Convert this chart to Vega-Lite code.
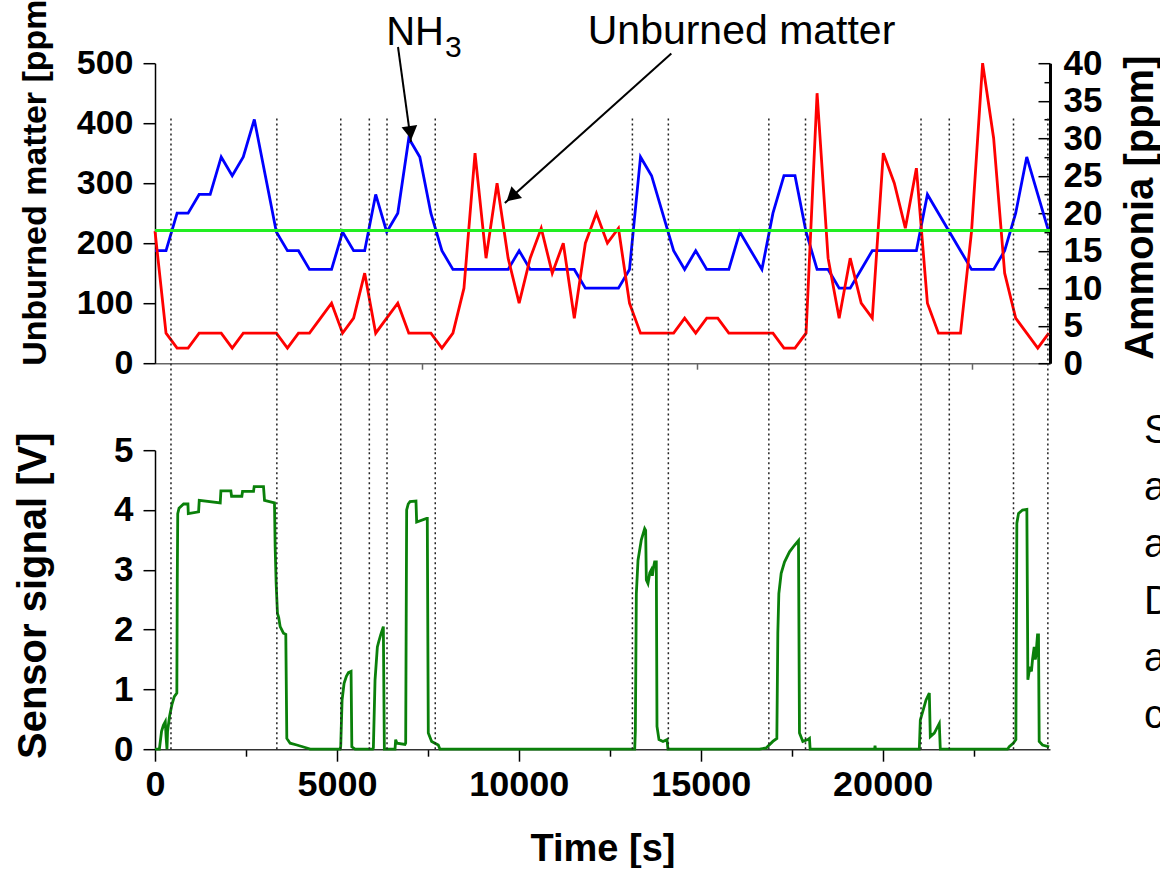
{
  "$schema": "https://vega.github.io/schema/vega-lite/v6.json",
  "background": "white",
  "padding": {"left": 13, "top": -12.8, "right": -13, "bottom": 0},
  "bounds": "flush",
  "spacing": 87,
  "config": {
    "view": {"stroke": null},
    "font": "Liberation Sans",
    "axis": {
      "grid": false,
      "labelFont": "Liberation Sans",
      "titleFont": "Liberation Sans",
      "labelColor": "black",
      "titleColor": "black",
      "domainColor": "black",
      "tickColor": "black",
      "labelOverlap": false,
      "labelFlush": false,
      "labelFontWeight": "bold",
      "titleFontWeight": "bold",
      "domainWidth": 1.5,
      "tickWidth": 1.5
    }
  },
  "datasets": {
    "events": [
      {"t": 439}, {"t": 3349}, {"t": 5106}, {"t": 5891}, {"t": 6377}, {"t": 7703},
      {"t": 13122}, {"t": 14110}, {"t": 16872}, {"t": 17880}, {"t": 21055},
      {"t": 21832}, {"t": 23597}, {"t": 24541}
    ],
    "top": [
      {"t": 0, "nh3": 15, "um": 220},
      {"t": 303, "nh3": 15, "um": 50},
      {"t": 607, "nh3": 20, "um": 25},
      {"t": 910, "nh3": 20, "um": 25},
      {"t": 1213, "nh3": 22.5, "um": 50},
      {"t": 1517, "nh3": 22.5, "um": 50},
      {"t": 1820, "nh3": 27.5, "um": 50},
      {"t": 2123, "nh3": 25, "um": 25},
      {"t": 2426, "nh3": 27.5, "um": 50},
      {"t": 2730, "nh3": 32.5, "um": 50},
      {"t": 3033, "nh3": 25, "um": 50},
      {"t": 3336, "nh3": 17.5, "um": 50},
      {"t": 3640, "nh3": 15, "um": 25},
      {"t": 3943, "nh3": 15, "um": 50},
      {"t": 4246, "nh3": 12.5, "um": 50},
      {"t": 4550, "nh3": 12.5, "um": 75},
      {"t": 4853, "nh3": 12.5, "um": 100},
      {"t": 5156, "nh3": 17.5, "um": 50},
      {"t": 5459, "nh3": 15, "um": 75},
      {"t": 5763, "nh3": 15, "um": 150},
      {"t": 6066, "nh3": 22.5, "um": 50},
      {"t": 6369, "nh3": 17.5, "um": 75},
      {"t": 6673, "nh3": 20, "um": 100},
      {"t": 6976, "nh3": 30, "um": 50},
      {"t": 7279, "nh3": 27.5, "um": 50},
      {"t": 7583, "nh3": 20, "um": 50},
      {"t": 7886, "nh3": 15, "um": 25},
      {"t": 8189, "nh3": 12.5, "um": 50},
      {"t": 8492, "nh3": 12.5, "um": 125},
      {"t": 8796, "nh3": 12.5, "um": 350},
      {"t": 9099, "nh3": 12.5, "um": 175},
      {"t": 9402, "nh3": 12.5, "um": 300},
      {"t": 9706, "nh3": 12.5, "um": 175},
      {"t": 10009, "nh3": 15, "um": 100},
      {"t": 10312, "nh3": 12.5, "um": 175},
      {"t": 10616, "nh3": 12.5, "um": 225},
      {"t": 10919, "nh3": 12.5, "um": 150},
      {"t": 11222, "nh3": 12.5, "um": 200},
      {"t": 11525, "nh3": 12.5, "um": 75},
      {"t": 11829, "nh3": 10, "um": 200},
      {"t": 12132, "nh3": 10, "um": 250},
      {"t": 12435, "nh3": 10, "um": 200},
      {"t": 12739, "nh3": 10, "um": 225},
      {"t": 13042, "nh3": 12.5, "um": 100},
      {"t": 13345, "nh3": 27.5, "um": 50},
      {"t": 13649, "nh3": 25, "um": 50},
      {"t": 13952, "nh3": 20, "um": 50},
      {"t": 14255, "nh3": 15, "um": 50},
      {"t": 14558, "nh3": 12.5, "um": 75},
      {"t": 14862, "nh3": 15, "um": 50},
      {"t": 15165, "nh3": 12.5, "um": 75},
      {"t": 15468, "nh3": 12.5, "um": 75},
      {"t": 15772, "nh3": 12.5, "um": 50},
      {"t": 16075, "nh3": 17.5, "um": 50},
      {"t": 16378, "nh3": 15, "um": 50},
      {"t": 16682, "nh3": 12.5, "um": 50},
      {"t": 16985, "nh3": 20, "um": 50},
      {"t": 17288, "nh3": 25, "um": 25},
      {"t": 17591, "nh3": 25, "um": 25},
      {"t": 17895, "nh3": 17.5, "um": 50},
      {"t": 18198, "nh3": 12.5, "um": 450},
      {"t": 18501, "nh3": 12.5, "um": 175},
      {"t": 18805, "nh3": 10, "um": 75},
      {"t": 19108, "nh3": 10, "um": 175},
      {"t": 19411, "nh3": 12.5, "um": 100},
      {"t": 19715, "nh3": 15, "um": 75},
      {"t": 20018, "nh3": 15, "um": 350},
      {"t": 20321, "nh3": 15, "um": 300},
      {"t": 20624, "nh3": 15, "um": 225},
      {"t": 20928, "nh3": 15, "um": 325},
      {"t": 21231, "nh3": 22.5, "um": 100},
      {"t": 21534, "nh3": 20, "um": 50},
      {"t": 21838, "nh3": 17.5, "um": 50},
      {"t": 22141, "nh3": 15, "um": 50},
      {"t": 22444, "nh3": 12.5, "um": 220},
      {"t": 22748, "nh3": 12.5, "um": 500},
      {"t": 23051, "nh3": 12.5, "um": 375},
      {"t": 23354, "nh3": 15, "um": 150},
      {"t": 23657, "nh3": 20, "um": 75},
      {"t": 23961, "nh3": 27.5, "um": 50},
      {"t": 24264, "nh3": 22.5, "um": 25},
      {"t": 24567, "nh3": 17.5, "um": 50}
    ],
    "sensor": [
      {"t": 0, "v": 0}, {"t": 120, "v": 0}, {"t": 180, "v": 0.3}, {"t": 230, "v": 0.4},
      {"t": 283, "v": 0.46}, {"t": 305, "v": 0.2}, {"t": 329, "v": 0}, {"t": 345, "v": 0.3},
      {"t": 400, "v": 0.55}, {"t": 467, "v": 0.75}, {"t": 530, "v": 0.88}, {"t": 600, "v": 0.94},
      {"t": 612, "v": 2.8}, {"t": 625, "v": 3.94}, {"t": 660, "v": 4.03}, {"t": 786, "v": 4.1},
      {"t": 905, "v": 4.1}, {"t": 915, "v": 3.94}, {"t": 1198, "v": 3.97}, {"t": 1216, "v": 4.16},
      {"t": 1793, "v": 4.12}, {"t": 1811, "v": 4.32}, {"t": 2085, "v": 4.32}, {"t": 2104, "v": 4.23},
      {"t": 2387, "v": 4.23}, {"t": 2406, "v": 4.31}, {"t": 2708, "v": 4.31}, {"t": 2726, "v": 4.39},
      {"t": 2982, "v": 4.39}, {"t": 3010, "v": 4.16}, {"t": 3284, "v": 4.12}, {"t": 3302, "v": 3.39},
      {"t": 3330, "v": 2.77}, {"t": 3366, "v": 2.27}, {"t": 3400, "v": 2.2}, {"t": 3440, "v": 2.05},
      {"t": 3531, "v": 1.94}, {"t": 3595, "v": 1.92}, {"t": 3623, "v": 0.18}, {"t": 3714, "v": 0.1},
      {"t": 3897, "v": 0.07}, {"t": 4172, "v": 0.02}, {"t": 4263, "v": 0},
      {"t": 5087, "v": 0}, {"t": 5105, "v": 0.05}, {"t": 5142, "v": 0.82}, {"t": 5197, "v": 1.1},
      {"t": 5260, "v": 1.22}, {"t": 5316, "v": 1.28}, {"t": 5389, "v": 1.3}, {"t": 5410, "v": 0.04},
      {"t": 5499, "v": 0},
      {"t": 5984, "v": 0}, {"t": 6002, "v": 0.02}, {"t": 6048, "v": 1.16}, {"t": 6112, "v": 1.71},
      {"t": 6150, "v": 1.8}, {"t": 6203, "v": 1.91}, {"t": 6276, "v": 2.05}, {"t": 6304, "v": 0},
      {"t": 6597, "v": 0}, {"t": 6615, "v": 0.16}, {"t": 6650, "v": 0.1}, {"t": 6871, "v": 0.08},
      {"t": 6890, "v": 0.1}, {"t": 6917, "v": 4.0}, {"t": 6960, "v": 4.1}, {"t": 7009, "v": 4.14},
      {"t": 7173, "v": 4.15}, {"t": 7192, "v": 3.8}, {"t": 7466, "v": 3.86}, {"t": 7484, "v": 3.86},
      {"t": 7512, "v": 0.27}, {"t": 7604, "v": 0.13}, {"t": 7786, "v": 0.07}, {"t": 7832, "v": 0},
      {"t": 13185, "v": 0}, {"t": 13203, "v": 0.3}, {"t": 13230, "v": 2.6}, {"t": 13276, "v": 3.16},
      {"t": 13367, "v": 3.5}, {"t": 13459, "v": 3.69}, {"t": 13486, "v": 3.66}, {"t": 13505, "v": 2.83},
      {"t": 13550, "v": 2.77}, {"t": 13600, "v": 2.95}, {"t": 13642, "v": 3.0}, {"t": 13670, "v": 2.9},
      {"t": 13706, "v": 3.05}, {"t": 13733, "v": 3.13}, {"t": 13779, "v": 3.13}, {"t": 13798, "v": 0.38},
      {"t": 13852, "v": 0.16}, {"t": 13962, "v": 0.13}, {"t": 14072, "v": 0.16}, {"t": 14100, "v": 0},
      {"t": 16616, "v": 0}, {"t": 16799, "v": 0.02}, {"t": 16982, "v": 0.13}, {"t": 17092, "v": 0.18},
      {"t": 17119, "v": 1.94}, {"t": 17147, "v": 2.6}, {"t": 17211, "v": 2.94}, {"t": 17302, "v": 3.13},
      {"t": 17440, "v": 3.3}, {"t": 17577, "v": 3.41}, {"t": 17687, "v": 3.49}, {"t": 17714, "v": 0.27},
      {"t": 17806, "v": 0.13}, {"t": 17943, "v": 0.16}, {"t": 17989, "v": 0.18}, {"t": 18007, "v": 0},
      {"t": 19780, "v": 0}, {"t": 19791, "v": 0.06}, {"t": 19802, "v": 0},
      {"t": 21008, "v": 0}, {"t": 21036, "v": 0.49}, {"t": 21118, "v": 0.66}, {"t": 21191, "v": 0.82},
      {"t": 21283, "v": 0.94}, {"t": 21310, "v": 0.21}, {"t": 21420, "v": 0.27}, {"t": 21557, "v": 0.43},
      {"t": 21585, "v": 0},
      {"t": 23433, "v": 0}, {"t": 23479, "v": 0.04}, {"t": 23589, "v": 0.1}, {"t": 23662, "v": 0.16},
      {"t": 23689, "v": 3.78}, {"t": 23735, "v": 3.94}, {"t": 23845, "v": 4.0}, {"t": 23964, "v": 4.01},
      {"t": 23992, "v": 1.16}, {"t": 24047, "v": 1.38}, {"t": 24090, "v": 1.3}, {"t": 24120, "v": 1.5},
      {"t": 24166, "v": 1.71}, {"t": 24195, "v": 1.5}, {"t": 24211, "v": 1.55}, {"t": 24257, "v": 1.91},
      {"t": 24284, "v": 1.91}, {"t": 24303, "v": 0.13}, {"t": 24394, "v": 0.07}, {"t": 24577, "v": 0.04}
    ],
    "letters": [
      {"letter": "S", "v": 5.12},
      {"letter": "a", "v": 4.165},
      {"letter": "a", "v": 3.21},
      {"letter": "D", "v": 2.26},
      {"letter": "a", "v": 1.31},
      {"letter": "c", "v": 0.356}
    ]
  },
  "vconcat": [
    {
      "width": 895,
      "height": 300,
      "layer": [
        {
          "data": {"name": "top"},
          "mark": {"type": "line", "color": "#0000ff", "strokeWidth": 2.8},
          "encoding": {
            "x": {"field": "t", "type": "quantitative", "scale": {"domain": [0, 24600], "nice": false, "zero": false}},
            "y": {
              "field": "nh3", "type": "quantitative",
              "scale": {"domain": [0, 40], "nice": false},
              "axis": {
                "orient": "right",
                "values": [0, 2.5, 5, 7.5, 10, 12.5, 15, 17.5, 20, 22.5, 25, 27.5, 30, 32.5, 35, 37.5, 40],
                "format": "d",
                "labelExpr": "datum.value % 5 === 0 ? datum.label : ''",
                "tickSize": {"condition": {"test": "datum.value % 5 === 0", "value": -12}, "value": -6},
                "labelFontSize": 35,
                "labelPadding": 25,
                "domainWidth": 3,
                "title": "Ammonia [ppm]",
                "titleFontSize": 40,
                "titleAngle": 270,
                "titleAlign": "center",
                "titleBaseline": "middle",
                "titleX": 91,
                "titleY": 144
              }
            }
          }
        },
        {
          "layer": [
            {
              "data": {"name": "top"},
              "mark": {"type": "line", "color": "#ff0000", "strokeWidth": 2.8},
              "encoding": {
                "x": {
                  "field": "t", "type": "quantitative",
                  "scale": {"domain": [0, 24600], "nice": false, "zero": false},
                  "axis": {"orient": "bottom", "values": [7350, 14900, 22450], "labels": false, "tickSize": 6, "domainColor": "#666666", "tickColor": "#666666", "title": null}
                },
                "y": {
                  "field": "um", "type": "quantitative",
                  "scale": {"domain": [0, 500], "nice": false},
                  "axis": {
                    "orient": "left",
                    "values": [0, 50, 100, 150, 200, 250, 300, 350, 400, 450, 500],
                    "format": "d",
                    "labelExpr": "datum.value % 100 === 0 ? datum.label : ''",
                    "tickSize": {"condition": {"test": "datum.value % 100 === 0", "value": 12}, "value": 7},
                    "labelFontSize": 34,
                    "labelPadding": 10,
                    "title": "Unburned matter [ppm]",
                    "titleFontSize": 34,
                    "titleAngle": 270,
                    "titleAlign": "left",
                    "titleBaseline": "middle",
                    "titleX": -120,
                    "titleY": 302
                  }
                }
              }
            },
            {
              "data": {"name": "events"},
              "mark": {"type": "rule", "strokeDash": [2, 3], "strokeWidth": 1.5, "color": "#222222", "clip": false},
              "encoding": {
                "x": {"field": "t", "type": "quantitative", "scale": {"domain": [0, 24600], "nice": false, "zero": false}},
                "y": {"datum": 408, "type": "quantitative", "scale": {"domain": [0, 500], "nice": false}},
                "y2": {"datum": -145}
              }
            },
            {
              "data": {"values": [{}]},
              "mark": {"type": "rule", "color": "#22ee22", "strokeWidth": 3},
              "encoding": {
                "y": {"datum": 221, "type": "quantitative", "scale": {"domain": [0, 500], "nice": false}}
              }
            },
            {
              "data": {"values": [{}]},
              "mark": {"type": "rule", "color": "black", "strokeWidth": 2, "clip": false},
              "encoding": {
                "x": {"datum": 6679, "type": "quantitative", "scale": {"domain": [0, 24600], "nice": false, "zero": false}},
                "y": {"datum": 527, "type": "quantitative", "scale": {"domain": [0, 500], "nice": false}},
                "x2": {"datum": 7037},
                "y2": {"datum": 369}
              }
            },
            {
              "data": {"values": [{}]},
              "mark": {"type": "point", "shape": "triangle-up", "size": 250, "filled": true, "color": "black", "opacity": 1, "angle": 171.8, "clip": false},
              "encoding": {
                "x": {"datum": 7019, "type": "quantitative", "scale": {"domain": [0, 24600], "nice": false, "zero": false}},
                "y": {"datum": 384, "type": "quantitative", "scale": {"domain": [0, 500], "nice": false}}
              }
            },
            {
              "data": {"values": [{}]},
              "mark": {"type": "rule", "color": "black", "strokeWidth": 2, "clip": false},
              "encoding": {
                "x": {"datum": 14192, "type": "quantitative", "scale": {"domain": [0, 24600], "nice": false, "zero": false}},
                "y": {"datum": 516, "type": "quantitative", "scale": {"domain": [0, 500], "nice": false}},
                "x2": {"datum": 9616},
                "y2": {"datum": 267}
              }
            },
            {
              "data": {"values": [{}]},
              "mark": {"type": "point", "shape": "triangle-up", "size": 250, "filled": true, "color": "black", "opacity": 1, "angle": 227.8, "clip": false},
              "encoding": {
                "x": {"datum": 9803, "type": "quantitative", "scale": {"domain": [0, 24600], "nice": false, "zero": false}},
                "y": {"datum": 277.5, "type": "quantitative", "scale": {"domain": [0, 500], "nice": false}}
              }
            },
            {
              "data": {"values": [{}]},
              "mark": {"type": "text", "text": "NH", "font": "Liberation Sans", "fontSize": 40, "align": "left", "baseline": "alphabetic", "color": "black", "clip": false},
              "encoding": {
                "x": {"datum": 6355, "type": "quantitative", "scale": {"domain": [0, 24600], "nice": false, "zero": false}},
                "y": {"datum": 531, "type": "quantitative", "scale": {"domain": [0, 500], "nice": false}}
              }
            },
            {
              "data": {"values": [{}]},
              "mark": {"type": "text", "text": "3", "font": "Liberation Sans", "fontSize": 30, "align": "left", "baseline": "alphabetic", "color": "black", "clip": false},
              "encoding": {
                "x": {"datum": 7969, "type": "quantitative", "scale": {"domain": [0, 24600], "nice": false, "zero": false}},
                "y": {"datum": 510, "type": "quantitative", "scale": {"domain": [0, 500], "nice": false}}
              }
            },
            {
              "data": {"values": [{}]},
              "mark": {"type": "text", "text": "Unburned matter", "font": "Liberation Sans", "fontSize": 41, "align": "center", "baseline": "alphabetic", "color": "black", "clip": false},
              "encoding": {
                "x": {"datum": 16121, "type": "quantitative", "scale": {"domain": [0, 24600], "nice": false, "zero": false}},
                "y": {"datum": 532, "type": "quantitative", "scale": {"domain": [0, 500], "nice": false}}
              }
            }
          ]
        }
      ],
      "resolve": {"scale": {"y": "independent"}}
    },
    {
      "width": 895,
      "height": 299,
      "layer": [
        {
          "data": {"name": "sensor"},
          "mark": {"type": "line", "color": "#0a800a", "strokeWidth": 2.8},
          "encoding": {
            "x": {
              "field": "t", "type": "quantitative",
              "scale": {"domain": [0, 24600], "nice": false, "zero": false},
              "axis": {
                "orient": "bottom",
                "values": [0, 2500, 5000, 7500, 10000, 12500, 15000, 17500, 20000, 22500],
                "format": "d",
                "labelExpr": "datum.value % 5000 === 0 ? datum.label : ''",
                "tickSize": {"condition": {"test": "datum.value % 5000 === 0", "value": 12}, "value": 7},
                "labelFontSize": 36,
                "labelPadding": 6,
                "domainColor": "#333333",
                "title": "Time [s]",
                "titleFontSize": 38,
                "titleBaseline": "alphabetic",
                "titleY": 111
              }
            },
            "y": {
              "field": "v", "type": "quantitative",
              "scale": {"domain": [0, 5], "nice": false},
              "axis": {
                "orient": "left",
                "values": [0, 0.5, 1, 1.5, 2, 2.5, 3, 3.5, 4, 4.5, 5],
                "format": "d",
                "labelExpr": "datum.value % 1 === 0 ? datum.label : ''",
                "tickSize": {"condition": {"test": "datum.value % 1 === 0", "value": 12}, "value": 7},
                "labelFontSize": 35,
                "labelPadding": 10,
                "title": "Sensor signal [V]",
                "titleFontSize": 40,
                "titleAngle": 270,
                "titleBaseline": "middle",
                "titleX": -122,
                "titleY": 145
              }
            }
          }
        },
        {
          "data": {"name": "events"},
          "mark": {"type": "rule", "strokeDash": [2, 3], "strokeWidth": 1.5, "color": "#222222", "clip": false},
          "encoding": {
            "x": {"field": "t", "type": "quantitative", "scale": {"domain": [0, 24600], "nice": false, "zero": false}},
            "y": {"datum": 0, "type": "quantitative", "scale": {"domain": [0, 5], "nice": false}},
            "y2": {"datum": 5}
          }
        },
        {
          "data": {"name": "letters"},
          "mark": {"type": "text", "font": "Liberation Sans", "fontSize": 40, "align": "left", "baseline": "alphabetic", "color": "black", "clip": false},
          "encoding": {
            "x": {"datum": 27185, "type": "quantitative", "scale": {"domain": [0, 24600], "nice": false, "zero": false}},
            "y": {"field": "v", "type": "quantitative", "scale": {"domain": [0, 5], "nice": false}},
            "text": {"field": "letter"}
          }
        }
      ]
    }
  ]
}
